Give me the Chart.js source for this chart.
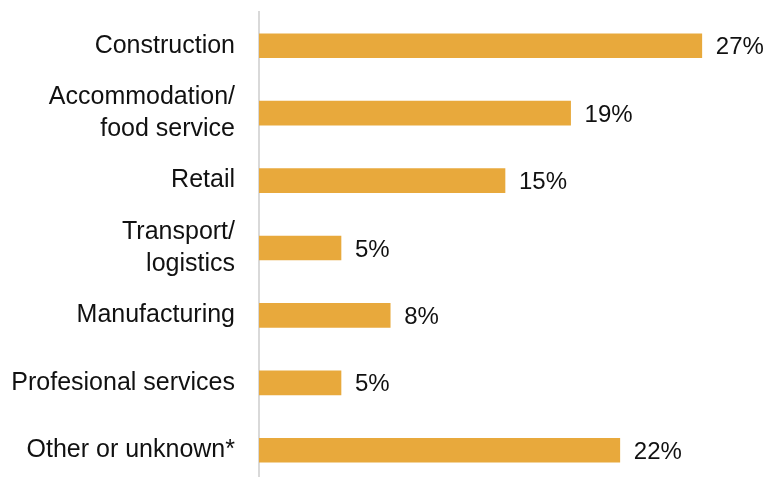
<!DOCTYPE html>
<html>
<head>
<meta charset="utf-8">
<script src="https://cdn.jsdelivr.net/npm/chart.js@4/dist/chart.umd.min.js"></script>
<style>
  html, body { margin: 0; padding: 0; background: #fff; overflow: hidden; }
  #wrap { width: 769px; height: 477px; overflow: hidden; }
  #box { width: 769px; height: 484px; position: relative; }
</style>
</head>
<body>
<div id="wrap"><div id="box"><canvas id="barChart"></canvas></div></div>
<script>
// sectors and their share (%)
const sectors = [
  'Construction',
  ['Accommodation/', 'food service'],
  'Retail',
  ['Transport/', 'logistics'],
  'Manufacturing',
  'Profesional services',
  'Other or unknown*'
];
const shares = [27, 19, 15, 5, 8, 5, 22];

const barColor = '#E8A93C';
const textColor = '#111111';
const fontFamily = "'Liberation Sans', Arial, sans-serif";

// writes "NN%" to the right of each bar
const valueLabels = {
  id: 'valueLabels',
  afterDatasetsDraw(chart) {
    const ctx = chart.ctx;
    const meta = chart.getDatasetMeta(0);
    ctx.save();
    ctx.font = '24px ' + fontFamily;
    ctx.fillStyle = textColor;
    ctx.textAlign = 'left';
    ctx.textBaseline = 'middle';
    meta.data.forEach((bar, i) => {
      ctx.fillText(chart.data.datasets[0].data[i] + '%', bar.x + 14, bar.y + 2);
    });
    ctx.restore();
  }
};

const ctxBar = document.getElementById('barChart').getContext('2d');

const barChart = new Chart(ctxBar, {
  type: 'bar',
  data: {
    labels: sectors,
    datasets: [{
      data: shares,
      backgroundColor: barColor,
      borderWidth: 0,
      barThickness: 24
    }]
  },
  options: {
    indexAxis: 'y',
    responsive: true,
    maintainAspectRatio: false,
    animation: false,
    layout: { padding: { top: 12, right: 18, bottom: 0, left: 0 } },
    plugins: {
      legend: { display: false },
      tooltip: { enabled: false }
    },
    scales: {
      x: {
        display: false,
        min: 0,
        max: 30
      },
      y: {
        afterFit(scale) {
          scale.width = 259;
          // no extra room for the first/last label
          scale.paddingTop = 0;
          scale.paddingBottom = 0;
        },
        grid: { display: false, drawTicks: false },
        border: { display: true, color: '#d9d9d9', width: 2 },
        ticks: {
          padding: 24,
          color: textColor,
          font: { family: fontFamily, size: 25, lineHeight: 1.25 }
        }
      }
    }
  },
  plugins: [valueLabels]
});
</script>
</body>
</html>
